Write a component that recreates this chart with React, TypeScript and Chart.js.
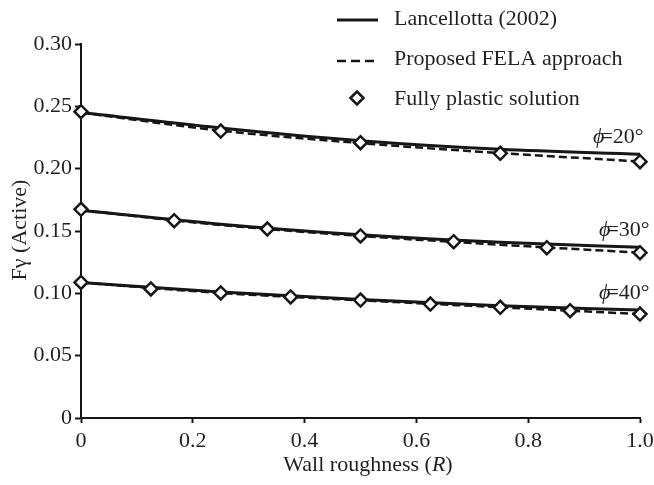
import React, { useEffect, useRef } from "react";
import { Chart, registerables } from "chart.js";

Chart.register(...registerables);

// Wall roughness sample points for the analytical / FELA curves
const curveRoughness = [0, 0.25, 0.5, 0.75, 1.0];

// Lancellotta (2002) – solid curves
const lancellotta20 = [0.245, 0.2326, 0.2224, 0.2155, 0.2115];
const lancellotta30 = [0.1667, 0.1555, 0.147, 0.1409, 0.1369];
const lancellotta40 = [0.1087, 0.101, 0.095, 0.09, 0.0866];

// Proposed FELA approach – dashed curves
const fela20 = [0.245, 0.2305, 0.2205, 0.2125, 0.2058];
const fela30 = [0.1667, 0.1548, 0.146, 0.139, 0.1326];
const fela40 = [0.1087, 0.1003, 0.0944, 0.0888, 0.0834];

// Fully plastic solution – diamond markers
const plasticR20 = [0, 0.25, 0.5, 0.75, 1.0];
const plastic20 = [0.2457, 0.2302, 0.2208, 0.2123, 0.2056];
const plasticR30 = [0, 1 / 6, 2 / 6, 0.5, 4 / 6, 5 / 6, 1.0];
const plastic30 = [0.1674, 0.1583, 0.1516, 0.146, 0.1414, 0.1366, 0.1326];
const plasticR40 = [0, 0.125, 0.25, 0.375, 0.5, 0.625, 0.75, 0.875, 1.0];
const plastic40 = [0.1087, 0.1035, 0.1003, 0.0971, 0.0946, 0.0914, 0.0888, 0.0861, 0.0834];

const frictionAngles = ["20°", "30°", "40°"];

const yTickValues = [0, 0.05, 0.1, 0.15, 0.2, 0.25, 0.3];
const yTickLabels = ["0", "0.05", "0.10", "0.15", "0.20", "0.25", "0.30"];
const xTickValues = [0, 0.2, 0.4, 0.6, 0.8, 1.0];
const xTickLabels = ["0", "0.2", "0.4", "0.6", "0.8", "1.0"];

const legendLabels = ["Lancellotta (2002)", "Proposed FELA approach", "Fully plastic solution"];

const INK = "#161616";
const TEXT = "#231f20";
const SERIF = "'Liberation Serif', 'Times New Roman', serif";

const pairs = (xs: number[], ys: number[]) => xs.map((x, i) => ({ x, y: ys[i] }));

const solidStyle = {
  borderColor: INK,
  borderWidth: 3,
  pointRadius: 0,
  cubicInterpolationMode: "monotone" as const,
  order: 2,
};
const dashedStyle = {
  borderColor: INK,
  borderWidth: 2.5,
  borderDash: [8, 4],
  pointRadius: 0,
  cubicInterpolationMode: "monotone" as const,
  order: 1,
};
const diamondStyle = {
  showLine: false,
  pointStyle: "rectRot" as const,
  pointRadius: 6.5,
  pointBorderWidth: 2.5,
  pointBackgroundColor: "#ffffff",
  pointBorderColor: INK,
  clip: false as const,
  order: 0,
};

function drawDiamond(ctx: CanvasRenderingContext2D, x: number, y: number, r: number) {
  ctx.beginPath();
  ctx.moveTo(x - r, y);
  ctx.lineTo(x, y - r);
  ctx.lineTo(x + r, y);
  ctx.lineTo(x, y + r);
  ctx.closePath();
  ctx.fillStyle = "#ffffff";
  ctx.fill();
  ctx.lineWidth = 2.5;
  ctx.strokeStyle = INK;
  ctx.stroke();
}

const annotations = {
  id: "annotations",
  afterDraw(chart: Chart) {
    const { ctx, scales } = chart;
    const xs = scales.x;
    const ys = scales.y;
    ctx.save();
    ctx.fillStyle = TEXT;
    ctx.textBaseline = "middle";

    // Legend
    const lx0 = 337;
    const lx1 = 378;
    const tx = 394;
    ctx.strokeStyle = INK;
    ctx.lineWidth = 3;
    ctx.beginPath();
    ctx.moveTo(lx0, 20);
    ctx.lineTo(lx1, 20);
    ctx.stroke();
    ctx.lineWidth = 2.5;
    ctx.setLineDash([9, 5]);
    ctx.beginPath();
    ctx.moveTo(lx0, 61);
    ctx.lineTo(lx1 + 1, 61);
    ctx.stroke();
    ctx.setLineDash([]);
    drawDiamond(ctx, 357, 98, 6.5);
    ctx.fillStyle = TEXT;
    ctx.font = `22px ${SERIF}`;
    ctx.textAlign = "left";
    ctx.fillText(legendLabels[0], tx, 19);
    ctx.fillText(legendLabels[1], tx, 59);
    ctx.fillText(legendLabels[2], tx, 99);

    // Friction angle labels next to the curve ends
    const ends = [
      lancellotta20[lancellotta20.length - 1],
      lancellotta30[lancellotta30.length - 1],
      lancellotta40[lancellotta40.length - 1],
    ];
    const xEnd = xs.getPixelForValue(1.0);
    ends.forEach((v, i) => {
      const y = ys.getPixelForValue(v) - 17;
      let x = xEnd - (i === 0 ? 47 : 41);
      ctx.font = `italic 22px ${SERIF}`;
      ctx.fillText("ϕ", x, y);
      x += ctx.measureText("ϕ").width - 4;
      ctx.font = `22px ${SERIF}`;
      ctx.fillText("=" + frictionAngles[i], x, y);
    });

    // Axis titles
    ctx.font = `22px ${SERIF}`;
    ctx.save();
    ctx.translate(20, 230);
    ctx.rotate(-Math.PI / 2);
    ctx.textAlign = "center";
    ctx.fillText("Fγ (Active)", 0, 0);
    ctx.restore();

    const partA = "Wall roughness (";
    const partB = "R";
    const partC = ")";
    ctx.font = `22px ${SERIF}`;
    const wA = ctx.measureText(partA).width;
    const wC = ctx.measureText(partC).width;
    ctx.font = `italic 22px ${SERIF}`;
    const wB = ctx.measureText(partB).width;
    let x0 = 368 - (wA + wB + wC) / 2;
    const yT = 465;
    ctx.textAlign = "left";
    ctx.font = `22px ${SERIF}`;
    ctx.fillText(partA, x0, yT);
    x0 += wA;
    ctx.font = `italic 22px ${SERIF}`;
    ctx.fillText(partB, x0, yT);
    x0 += wB;
    ctx.font = `22px ${SERIF}`;
    ctx.fillText(partC, x0, yT);
    ctx.restore();
  },
};

export default function App() {
  const canvasRef = useRef<HTMLCanvasElement | null>(null);

  useEffect(() => {
    document.body.style.margin = "0";
    const canvas = canvasRef.current;
    if (!canvas) return;

    const axisCommon = {
      type: "linear" as const,
      border: { display: true, color: INK, width: 2 },
      grid: {
        drawOnChartArea: false,
        drawTicks: true,
        tickLength: 5,
        tickColor: INK,
        tickWidth: 2,
      },
    };

    const chart = new Chart(canvas, {
      type: "line",
      data: {
        datasets: [
          { ...solidStyle, data: pairs(curveRoughness, lancellotta20) },
          { ...solidStyle, data: pairs(curveRoughness, lancellotta30) },
          { ...solidStyle, data: pairs(curveRoughness, lancellotta40) },
          { ...dashedStyle, data: pairs(curveRoughness, fela20) },
          { ...dashedStyle, data: pairs(curveRoughness, fela30) },
          { ...dashedStyle, data: pairs(curveRoughness, fela40) },
          { ...diamondStyle, data: pairs(plasticR20, plastic20) },
          { ...diamondStyle, data: pairs(plasticR30, plastic30) },
          { ...diamondStyle, data: pairs(plasticR40, plastic40) },
        ] as any,
      },
      options: {
        responsive: false,
        animation: false,
        events: [],
        layout: { padding: { top: 44, right: 14, left: 0, bottom: 0 } },
        plugins: {
          legend: { display: false },
          tooltip: { enabled: false },
        },
        scales: {
          x: {
            ...axisCommon,
            min: 0,
            max: 1,
            afterBuildTicks: (s: any) => {
              s.ticks = xTickValues.map((value) => ({ value }));
            },
            afterFit: (s: any) => {
              s.height = 67;
              s.paddingLeft = 0;
              s.paddingRight = 0;
            },
            ticks: {
              color: TEXT,
              font: { family: SERIF, size: 22 },
              padding: 5,
              maxRotation: 0,
              autoSkip: false,
              callback: (_v: any, i: number) => xTickLabels[i],
            },
          },
          y: {
            ...axisCommon,
            min: 0,
            max: 0.3,
            afterBuildTicks: (s: any) => {
              s.ticks = yTickValues.map((value) => ({ value }));
            },
            afterFit: (s: any) => {
              s.width = 81;
              s.paddingTop = 0;
              s.paddingBottom = 0;
            },
            grid: { ...axisCommon.grid, tickLength: 6 },
            ticks: {
              color: TEXT,
              font: { family: SERIF, size: 22 },
              padding: 3,
              autoSkip: false,
              callback: (_v: any, i: number) => yTickLabels[i],
            },
          },
        },
      } as any,
      plugins: [annotations],
    });

    return () => chart.destroy();
  }, []);

  return (
    <div style={{ width: 654, height: 485 }}>
      <canvas ref={canvasRef} width={654} height={485} />
    </div>
  );
}
